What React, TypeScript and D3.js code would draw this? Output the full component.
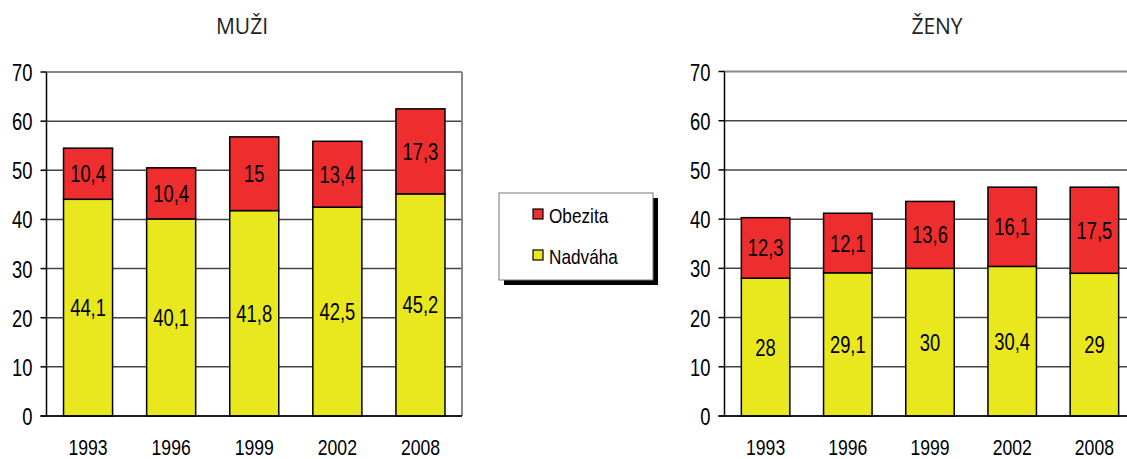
import React from "react";
import * as d3 from "d3";

const years = ["1993", "1996", "1999", "2002", "2008"];
const menNadvaha = [44.1, 40.1, 41.8, 42.5, 45.2];
const menObezita = [10.4, 10.4, 15, 13.4, 17.3];
const womenNadvaha = [28, 29.1, 30, 30.4, 29];
const womenObezita = [12.3, 12.1, 13.6, 16.1, 17.5];
const yTicks = [0, 10, 20, 30, 40, 50, 60, 70];
const seriesNames = ["Obezita", "Nadváha"];

const RED = "#ee2e2e";
const YELLOW = "#e9e81e";
const FONT = "'Liberation Sans', Arial, sans-serif";

const fmt = (v: number) => String(v).replace(".", ",");

function NText({ x, y, anchor = "middle", size = 23, sx = 0.8, children }: {
  x: number; y: number; anchor?: string; size?: number; sx?: number; children: React.ReactNode;
}) {
  return (
    <text transform={`translate(${x},${y}) scale(${sx},1)`} textAnchor={anchor as any}
      fontFamily={FONT} fontSize={size} fill="#000">{children}</text>
  );
}

function Panel({
  title, titleX, x0, x1, y0, y1, low, high, showRightBorder,
}: {
  title: string; titleX: number; x0: number; x1: number; y0: number; y1: number;
  low: number[]; high: number[]; showRightBorder: boolean;
}) {
  const x = d3.scaleBand<string>().domain(years).range([x0, x1]).paddingInner(0.41).paddingOuter(0.205);
  const y = d3.scaleLinear().domain([0, 70]).range([y0, y1]);
  return (
    <g>
      <text x={titleX} y={34} textAnchor="middle" fontFamily="'Open Sans', sans-serif" fontSize={21} fill="#222">{title}</text>
      {yTicks.map((t) => (
        <line key={"g" + t} x1={x0} x2={x1} y1={y(t)} y2={y(t)}
          stroke={t === 70 ? "#888" : "#444"} strokeWidth={t === 70 ? 2 : 1.5} />
      ))}
      {showRightBorder && <line x1={x1} x2={x1} y1={y(70)} y2={y(0)} stroke="#888" strokeWidth={2} />}
      {years.map((yr, i) => {
        const bx = x(yr)!;
        const bw = x.bandwidth();
        const a = low[i];
        const b = high[i];
        return (
          <g key={yr}>
            <rect x={bx} y={y(a)} width={bw} height={y(0) - y(a)} fill={YELLOW} stroke="#000" strokeWidth={1.5} />
            <rect x={bx} y={y(a + b)} width={bw} height={y(a) - y(a + b)} fill={RED} stroke="#000" strokeWidth={1.5} />
            <NText x={bx + bw / 2} y={(y(0) + y(a)) / 2 + 8.5}>{fmt(a)}</NText>
            <NText x={bx + bw / 2} y={(y(a) + y(a + b)) / 2 + 8.5}>{fmt(b)}</NText>
            <NText x={bx + bw / 2} y={455} size={22}>{yr}</NText>
          </g>
        );
      })}
      <line x1={x0} x2={x0} y1={y(70)} y2={y(0)} stroke="#000" strokeWidth={1.5} />
      <line x1={x0 - 6} x2={x1} y1={y(0)} y2={y(0)} stroke="#000" strokeWidth={1.5} />
      {yTicks.map((t) => (
        <g key={"t" + t}>
          <line x1={x0 - 6} x2={x0} y1={y(t)} y2={y(t)} stroke="#000" strokeWidth={1.5} />
          <NText x={x0 - 14} y={y(t) + 9} anchor="end">{t}</NText>
        </g>
      ))}
    </g>
  );
}

export default function App() {
  const colors = [RED, YELLOW];
  return (
    <svg width={1127} height={459} style={{ position: "absolute", left: 0, top: 0, background: "#fff" }}>
      <rect x={0} y={0} width={1127} height={459} fill="#fff" />
      <Panel title="MUŽI" titleX={242} x0={46.5} x1={462} y0={416} y1={72}
        low={menNadvaha} high={menObezita} showRightBorder={true} />
      <Panel title="ŽENY" titleX={937} x0={724.5} x1={1135.5} y0={416} y1={71.5}
        low={womenNadvaha} high={womenObezita} showRightBorder={false} />
      <g>
        <rect x={504} y={198} width={154} height={87} fill="#000" />
        <rect x={499} y={193} width={154} height={87} fill="#fff" stroke="#777" strokeWidth={1} />
        {seriesNames.map((s, i) => (
          <g key={s}>
            <rect x={533} y={209 + i * 41} width={10} height={10} fill={colors[i]} stroke="#000" strokeWidth={1.2} />
            <NText x={549} y={223 + i * 41} anchor="start" size={20} sx={0.86}>{s}</NText>
          </g>
        ))}
      </g>
    </svg>
  );
}
